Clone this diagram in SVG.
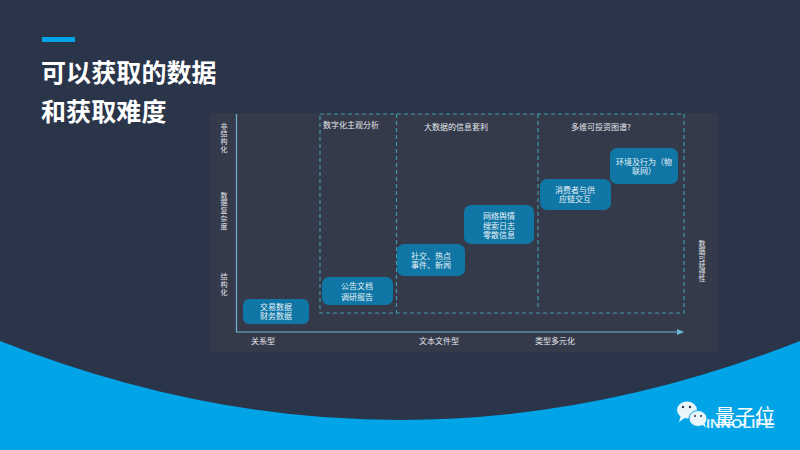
<svg xmlns="http://www.w3.org/2000/svg" width="800" height="450" viewBox="0 0 800 450">
<style>
text{font-family:"Noto Sans CJK SC","Noto Sans",sans-serif;fill:#e4e7ea}
.t{font-size:25px;font-weight:700;fill:#fff;letter-spacing:.1px}
.l{font-size:8px}
.n{font-size:8px;text-anchor:middle;fill:#e6f2f8}
.v{font-size:7px;letter-spacing:.8px;writing-mode:vertical-rl;text-anchor:middle}
.b{fill:#0f76a5}
.d{fill:none;stroke:#3f97a8;stroke-width:1.200;stroke-dasharray:4 3}
</style>
<defs><marker id="a" markerWidth="8" markerHeight="6" refX="6" refY="3" orient="auto" markerUnits="userSpaceOnUse"><path d="M0 0L7 3L0 6Z" fill="#6db4d2"/></marker></defs>
<rect width="800" height="450" fill="#2a3549"/>
<path d="M0 341Q400 499 800 341V450H0Z" fill="#02a4e8"/>
<rect x="42" y="37" width="33" height="5" fill="#02a4e8"/>
<text class="t" x="41" y="82">可以获取的数据</text>
<text class="t" x="41" y="121">和获取难度</text>
<rect x="210" y="113" width="508" height="239" fill="#353a4a"/>
<g id="connectors">
<path class="d" d="M320 114H684V313H320Z"/>
<path class="d" d="M396.500 114V313M538 114V310"/>
<path d="M236.500 114V332H683" fill="none" stroke="#6db4d2" stroke-width="1.200" marker-end="url(#a)"/>
</g>
<g id="axis-labels">
<text class="v" x="224" y="138">非结构化</text>
<text class="v" x="224" y="211">数据复杂度</text>
<text class="v" x="224" y="285">结构化</text>
<text class="v" x="702" y="261" style="letter-spacing:0">数据可获得性</text>
<text class="l" x="251" y="344">关系型</text>
<text class="l" x="419" y="344">文本文件型</text>
<text class="l" x="535" y="344">类型多元化</text>
<text class="l" x="323" y="128">数字化主观分析</text>
<text class="l" x="424" y="130">大数据的信息套利</text>
<text class="l" x="571" y="130">多维可投资图谱?</text>
</g>
<g id="node1"><rect class="b" x="243" y="299" width="66" height="25" rx="6"/><text class="n" y="310"><tspan x="276">交易数据</tspan><tspan x="276" dy="9">财务数据</tspan></text></g>
<g id="node2"><rect class="b" x="322" y="277" width="71" height="28" rx="7"/><text class="n" y="289"><tspan x="357">公告文档</tspan><tspan x="357" dy="11">调研报告</tspan></text></g>
<g id="node3"><rect class="b" x="397" y="244" width="68" height="32" rx="7"/><text class="n" y="259"><tspan x="431">社交、热点</tspan><tspan x="431" dy="9">事件、新闻</tspan></text></g>
<g id="node4"><rect class="b" x="464" y="205" width="70" height="39" rx="7"/><text class="n" y="219"><tspan x="499">网络舆情</tspan><tspan x="499" dy="9.500">搜索日志</tspan><tspan x="499" dy="9.500">零散信息</tspan></text></g>
<g id="node5"><rect class="b" x="540" y="179" width="71" height="31" rx="7"/><text class="n" y="193"><tspan x="575">消费者与供</tspan><tspan x="575" dy="9">应链交互</tspan></text></g>
<g id="node6"><rect class="b" x="610" y="148" width="68" height="36" rx="7"/><text class="n" y="165"><tspan x="644">环境及行为（物</tspan><tspan x="644" dy="9">联网）</tspan></text></g>
<g id="logo">
<text x="706" y="428" textLength="68" lengthAdjust="spacingAndGlyphs" style="font-size:13px;font-weight:700;fill:#d8f0fa;font-family:'Liberation Sans',sans-serif">INNOLIFE</text>
<ellipse cx="687" cy="410" rx="10" ry="8.500" fill="#e8f6fc"/>
<path d="M681 415L679 422L686 417Z" fill="#e8f6fc"/>
<ellipse cx="698" cy="418.500" rx="9" ry="8" fill="#e8f6fc" stroke="#02a4e8"/>
<path d="M702 424L706 428L704 421Z" fill="#e8f6fc"/>
<circle cx="683" cy="407" r="1.200" fill="#2a3549"/><circle cx="690" cy="407" r="1.200" fill="#2a3549"/>
<circle cx="695" cy="416" r="1" fill="#2a3549"/><circle cx="701" cy="416" r="1" fill="#2a3549"/>
<text x="715" y="424" style="font-size:20px;fill:#fff">量子位</text>
</g>
</svg>
